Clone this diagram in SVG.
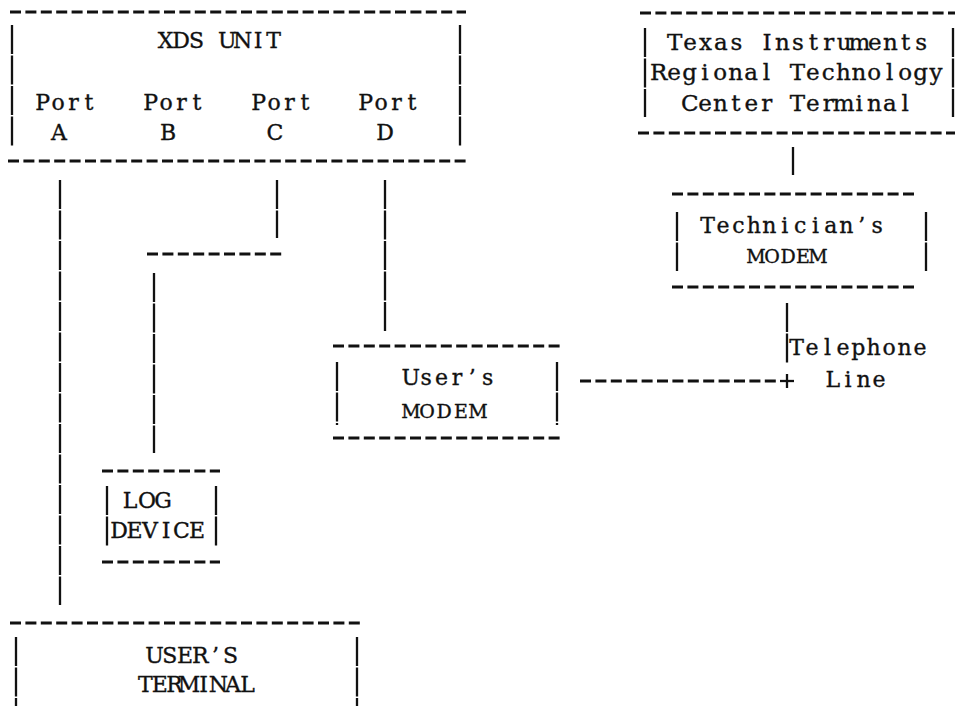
<svg xmlns="http://www.w3.org/2000/svg" width="955" height="715" viewBox="0 0 955 715">
  <style>
    .bg { fill: #ffffff; }
    .dash { stroke: #111; stroke-width: 2.8; stroke-dasharray: 11 4.4; fill: none; }
    /* typed vertical strokes: one bar per line, with a hairline break between lines */
    .bar { stroke: #111; stroke-width: 2.3; fill: none; stroke-dasharray: 29 1.5; }
    /* typewriter text: every character sits centred in its own fixed-pitch cell */
    .t { font-family: "DejaVu Serif", "Liberation Serif", serif; font-size: 22px; fill: #111; stroke: #111; stroke-width: 0.35; text-anchor: middle; }
    .big { font-size: 23px; }
    .s { font-size: 19px; }
  </style>
  <rect class="bg" x="0" y="0" width="955" height="715"/>

  <!-- XDS unit with its four ports -->
  <g id="xds-unit">
    <line class="dash" x1="10" y1="12" x2="466" y2="12"/>
    <line class="dash" x1="8" y1="161" x2="466" y2="161"/>
    <line class="bar" x1="12" y1="25" x2="12" y2="147"/>
    <line class="bar" x1="460" y1="25" x2="460" y2="147"/>
    <text class="t" x="165.7 181.1 196.5 211.9 227.3 242.7 258.1 273.5" y="48">XDS UNIT</text>
    <text class="t" x="42.7 58.1 73.5 88.9" y="110">Port</text>
    <text class="t" x="150.7 166.1 181.5 196.9" y="110">Port</text>
    <text class="t" x="258.7 274.1 289.5 304.9" y="110">Port</text>
    <text class="t" x="365.7 381.1 396.5 411.9" y="110">Port</text>
    <text class="t" x="59" y="140">A</text>
    <text class="t" x="168" y="140">B</text>
    <text class="t" x="275" y="140">C</text>
    <text class="t" x="385" y="140">D</text>
  </g>

  <!-- Remote terminal -->
  <g id="ti-terminal">
    <line class="dash" x1="640" y1="13" x2="955" y2="13"/>
    <line class="dash" x1="638" y1="133" x2="955" y2="133"/>
    <line class="bar" x1="645" y1="28" x2="645" y2="117"/>
    <line class="bar" x1="953" y1="28" x2="953" y2="117"/>
    <text class="t big" x="674.7 690.1 705.5 720.9 736.3 751.7 767.1 782.5 797.9 813.3 828.7 844.1 859.5 874.9 890.3 905.7 921.1" y="50">Texas Instruments</text>
    <text class="t big" x="658.7 674.1 689.5 704.9 720.3 735.7 751.1 766.5 781.9 797.3 812.7 828.1 843.5 858.9 874.3 889.7 905.1 920.5 935.9" y="80">Regional Technology</text>
    <text class="t big" x="689.7 705.1 720.5 735.9 751.3 766.7 782.1 797.5 812.9 828.3 843.7 859.1 874.5 889.9 905.3" y="111">Center Terminal</text>
  </g>

  <g id="technician-modem">
    <line class="dash" x1="672" y1="194" x2="916" y2="194"/>
    <line class="dash" x1="672" y1="287" x2="916" y2="287"/>
    <line class="bar" x1="677" y1="212" x2="677" y2="271"/>
    <line class="bar" x1="926" y1="212" x2="926" y2="271"/>
    <text class="t" x="707.7 723.1 738.5 753.9 769.3 784.7 800.1 815.5 830.9 846.3 861.7 877.1" y="233">Technician’s</text>
    <text class="t s" x="756 772 788 803 818" y="263">MODEM</text>
  </g>

  <g id="user-modem">
    <line class="dash" x1="333" y1="346" x2="560" y2="346"/>
    <line class="dash" x1="333" y1="438" x2="560" y2="438"/>
    <line class="bar" x1="337" y1="362" x2="337" y2="425"/>
    <line class="bar" x1="557" y1="362" x2="557" y2="425"/>
    <text class="t" x="410.7 426.1 441.5 456.9 472.3 487.7" y="385">User’s</text>
    <text class="t s" x="411 427 444 461 478" y="418">MODEM</text>
  </g>

  <g id="log-device">
    <line class="dash" x1="102" y1="471" x2="220" y2="471"/>
    <line class="dash" x1="102" y1="562" x2="220" y2="562"/>
    <line class="bar" x1="107" y1="486" x2="107" y2="547"/>
    <line class="bar" x1="216" y1="486" x2="216" y2="547"/>
    <text class="t" x="130 147 163" y="508">LOG</text>
    <text class="t" x="119 134.5 150 166 181.5 197" y="538">DEVICE</text>
  </g>

  <g id="user-terminal">
    <line class="dash" x1="10" y1="623" x2="362" y2="623"/>
    <line class="bar" x1="16" y1="637" x2="16" y2="706"/>
    <line class="bar" x1="357" y1="637" x2="357" y2="706"/>
    <text class="t" x="154.6 169.8 185 200.2 215.4 230.6" y="663">USER’S</text>
    <text class="t" x="145.3 159.9 174.5 189.1 203.7 218.3 232.9 247.5" y="692">TERMINAL</text>
  </g>

  <!-- Cabling between the units -->
  <g id="connectors">
    <!-- Port A to the user's terminal -->
    <line class="bar" x1="60" y1="180" x2="60" y2="605"/>
    <!-- Port C to the log device -->
    <line class="bar" x1="277" y1="180" x2="277" y2="238"/>
    <line class="dash" x1="147" y1="254" x2="283" y2="254"/>
    <line class="bar" x1="154" y1="273" x2="154" y2="453"/>
    <!-- Port D to the user's modem -->
    <line class="bar" x1="385" y1="180" x2="385" y2="332"/>
    <!-- Remote terminal to technician's modem -->
    <line class="bar" x1="793" y1="147" x2="793" y2="175"/>
    <!-- Telephone line -->
    <line class="bar" x1="787" y1="303" x2="787" y2="363"/>
    <line class="dash" x1="580" y1="381" x2="778" y2="381"/>
    <line class="bar" x1="780" y1="381" x2="794" y2="381" style="stroke-dasharray:none"/>
    <line class="bar" x1="787" y1="374" x2="787" y2="388" style="stroke-dasharray:none"/>
    <text class="t" x="796.7 812.1 827.5 842.9 858.3 873.7 889.1 904.5 919.9" y="355">Telephone</text>
    <text class="t" x="832.7 848.1 863.5 878.9" y="387">Line</text>
  </g>
</svg>
